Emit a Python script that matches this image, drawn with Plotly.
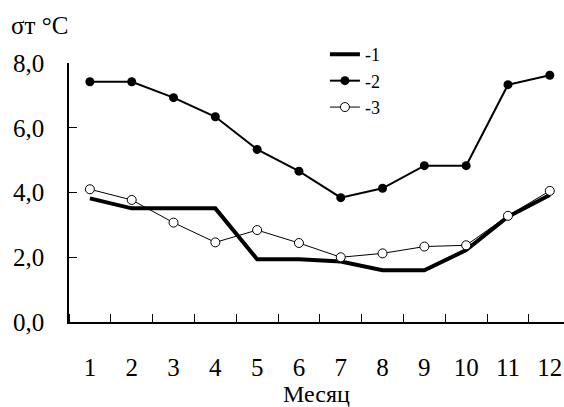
import plotly.graph_objects as go

months = [1, 2, 3, 4, 5, 6, 7, 8, 9, 10, 11, 12]
month_labels = ["1", "2", "3", "4", "5", "6", "7", "8", "9", "10", "11", "12"]
series1 = [3.82, 3.51, 3.51, 3.51, 1.94, 1.94, 1.87, 1.60, 1.60, 2.22, 3.25, 3.92]
series2 = [7.42, 7.42, 6.93, 6.34, 5.33, 4.66, 3.84, 4.13, 4.83, 4.83, 7.33, 7.62]
series3 = [4.10, 3.77, 3.07, 2.46, 2.84, 2.44, 2.00, 2.12, 2.33, 2.37, 3.28, 4.05]
y_ticks = [0, 2, 4, 6, 8]
y_tick_labels = ["0,0", "2,0", "4,0", "6,0", "8,0"]

FONT = "Liberation Serif"

fig = go.Figure()
fig.add_trace(go.Scatter(x=months, y=series1, name="-1", mode="lines",
                         line=dict(color="black", width=4), cliponaxis=False))
fig.add_trace(go.Scatter(x=months, y=series2, name="-2", mode="lines+markers",
                         line=dict(color="black", width=2),
                         marker=dict(symbol="circle", size=9, color="black"),
                         cliponaxis=False))
fig.add_trace(go.Scatter(x=months, y=series3, name="-3", mode="lines+markers",
                         line=dict(color="black", width=1),
                         marker=dict(symbol="circle", size=9, color="white",
                                     line=dict(color="black", width=1)),
                         cliponaxis=False))

fig.update_layout(
    width=564, height=407,
    margin=dict(l=69, r=0, t=63, b=85, autoexpand=False),
    paper_bgcolor="white", plot_bgcolor="white",
    font=dict(family=FONT, size=25, color="black"),
    showlegend=True,
    legend=dict(x=0.517, y=1.104, xanchor="left", yanchor="top",
                bgcolor="rgba(0,0,0,0)", font=dict(family=FONT, size=18),
                itemwidth=30, tracegroupgap=0),
    xaxis=dict(range=[0.5, 12.34], tickvals=months, ticktext=month_labels,
               ticks="", showgrid=False, zeroline=False, automargin=False,
               showline=True, linecolor="black", linewidth=1.5,
               ticklabelstandoff=22,
               tickfont=dict(family=FONT, size=25),
               minor=dict(ticks="inside", tick0=0.5, dtick=1, ticklen=8,
                          tickcolor="black", showgrid=False),
               title=dict(text="Месяц", font=dict(family=FONT, size=24), standoff=5)),
    yaxis=dict(range=[0, 8], tickvals=y_ticks, ticktext=y_tick_labels,
               ticks="inside", ticklen=8, tickcolor="black", automargin=False,
               showgrid=False, zeroline=False,
               showline=True, linecolor="black", linewidth=1.5,
               ticklabelstandoff=18,
               tickfont=dict(family=FONT, size=25)),
)
fig.add_annotation(text="σт °C", xref="paper", yref="paper",
                   x=-60/495, y=(322-10)/259, xanchor="left", yanchor="top",
                   showarrow=False, font=dict(family=FONT, size=25))

fig.write_html("out.html", config={"displayModeBar": False},
               post_script="document.body.style.margin='0';")
